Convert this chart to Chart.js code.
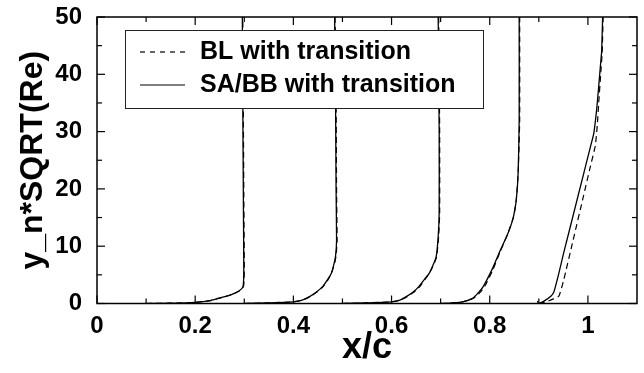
<!DOCTYPE html>
<html><head><meta charset="utf-8">
<script src="https://cdn.jsdelivr.net/npm/chart.js@4"></script>
<style>html,body{margin:0;padding:0;background:#fff}#wrap{width:644px;height:373px;position:relative}</style>
</head><body><div id="wrap"><canvas id="c"></canvas></div>
<script>
// ---- tick labels ----
const xTickLabels = [0, 0.2, 0.4, 0.6, 0.8, 1];
const xMinorTicks = [0.1, 0.3, 0.5, 0.7, 0.9];
const yTickLabels = [0, 10, 20, 30, 40, 50];
const yMinorTicks = [5, 15, 25, 35, 45];
const seriesNames = ['BL with transition', 'SA/BB with transition'];

// ---- profile 1 ----
const p1Y  = [0, 0.05, 0.2, 0.5, 1.1, 1.6, 2.1, 2.6, 3.2, 6, 20, 35, 50];
const p1SA = [0.100, 0.150, 0.200, 0.230, 0.256, 0.275, 0.287, 0.295, 0.298, 0.299, 0.298, 0.297, 0.296];
const p1BL = [0.100, 0.150, 0.200, 0.231, 0.257, 0.276, 0.288, 0.296, 0.299, 0.300, 0.299, 0.298, 0.297];
// ---- profile 2 ----
const p2Y  = [0, 0.1, 0.3, 0.6, 1.2, 2.0, 3.0, 4.2, 5.4, 7.0, 8.3, 11, 20, 35, 50];
const p2SA = [0.300, 0.350, 0.400, 0.418, 0.433, 0.447, 0.460, 0.470, 0.478, 0.483, 0.486, 0.488, 0.487, 0.486, 0.484];
const p2BL = [0.300, 0.350, 0.400, 0.419, 0.434, 0.448, 0.461, 0.471, 0.478, 0.484, 0.487, 0.489, 0.488, 0.487, 0.485];
// ---- profile 3 ----
const p3Y  = [0, 0.1, 0.3, 0.6, 1.2, 2.0, 3.0, 4.2, 5.3, 6.8, 8.2, 11.7, 15.8, 30, 50];
const p3SA = [0.500, 0.550, 0.600, 0.617, 0.630, 0.644, 0.656, 0.667, 0.677, 0.685, 0.691, 0.695, 0.697, 0.697, 0.695];
const p3BL = [0.500, 0.550, 0.600, 0.618, 0.632, 0.646, 0.658, 0.668, 0.677, 0.686, 0.692, 0.696, 0.698, 0.698, 0.696];
// ---- profile 4 ----
const p4Y  = [0, 0.1, 0.3, 0.9, 1.8, 3.0, 6.0, 9.0, 12.0, 15.0, 18.0, 23.0, 32, 50];
const p4SA = [0.700, 0.725, 0.745, 0.765, 0.776, 0.787, 0.805, 0.820, 0.836, 0.848, 0.854, 0.858, 0.860, 0.860];
const p4BL = [0.700, 0.725, 0.746, 0.767, 0.779, 0.790, 0.807, 0.821, 0.836, 0.848, 0.854, 0.858, 0.861, 0.861];
// ---- profile 5 (separate y levels per model) ----
const p5SAy = [0.4, 0, 0.5, 1.3, 2.1, 5.0, 8.6, 15.4, 22.2, 27.3, 29.7, 34, 37.9, 42, 44, 50];
const p5SAx = [0.897, 0.900, 0.912, 0.925, 0.931, 0.940, 0.950, 0.970, 0.990, 1.005, 1.012, 1.018, 1.022, 1.026, 1.028, 1.030];
const p5BLy = [0, 0.3, 0.8, 1.3, 4.2, 11.1, 18.4, 23.9, 27.5, 31, 35, 40, 43.7, 50];
const p5BLx = [0.900, 0.915, 0.930, 0.941, 0.951, 0.970, 0.990, 1.005, 1.015, 1.019, 1.022, 1.026, 1.029, 1.031];

const FONT = "'Liberation Sans', Arial, sans-serif";
const pts = (xs, ys) => xs.map((v, i) => ({x: v, y: ys[i]}));
const profiles = [
  [pts(p1BL, p1Y), pts(p1SA, p1Y)],
  [pts(p2BL, p2Y), pts(p2SA, p2Y)],
  [pts(p3BL, p3Y), pts(p3SA, p3Y)],
  [pts(p4BL, p4Y), pts(p4SA, p4Y)],
  [pts(p5BLx, p5BLy), pts(p5SAx, p5SAy)]
];
const datasets = [];
profiles.forEach(([bl, sa]) => {
  datasets.push({label: seriesNames[0], data: bl, borderColor: '#000', borderWidth: 1.2, borderDash: [6, 4], showLine: true, pointRadius: 0, tension: 0.15});
  datasets.push({label: seriesNames[1], data: sa, borderColor: '#000', borderWidth: 1.3, showLine: true, pointRadius: 0, tension: 0.15});
});

const framePlugin = {
  id: 'frame',
  afterDatasetsDraw(chart) {
    const {ctx, chartArea: {left, right, top, bottom}, scales: {x, y}} = chart;
    ctx.save();
    ctx.strokeStyle = '#000';
    const seg = (x1, y1, x2, y2) => { ctx.beginPath(); ctx.moveTo(x1, y1); ctx.lineTo(x2, y2); ctx.stroke(); };
    ctx.lineWidth = 1.2;
    const xt = (v, len) => { const p = x.getPixelForValue(v); seg(p, bottom, p, bottom - len); seg(p, top, p, top + len); };
    const yt = (v, len) => { const p = y.getPixelForValue(v); seg(left, p, left + len, p); seg(right, p, right - len, p); };
    xTickLabels.forEach(v => xt(v, 8)); xMinorTicks.forEach(v => xt(v, 5));
    yTickLabels.forEach(v => yt(v, 8)); yMinorTicks.forEach(v => yt(v, 5));
    ctx.lineWidth = 1.5;
    ctx.strokeRect(left, top, right - left, bottom - top);
    // legend
    const bx = left + 28, by = top + 13, bw = 358, bh = 78;
    ctx.fillStyle = '#fff'; ctx.fillRect(bx, by, bw, bh);
    ctx.lineWidth = 1; ctx.strokeStyle = '#222'; ctx.strokeRect(bx + 0.5, by + 0.5, bw, bh);
    ctx.strokeStyle = '#000'; ctx.lineWidth = 1.2;
    const rows = [by + 22, by + 55];
    ctx.setLineDash([5, 5]); seg(bx + 15, rows[0], bx + 60, rows[0]);
    ctx.setLineDash([]); seg(bx + 15, rows[1], bx + 60, rows[1]);
    ctx.fillStyle = '#000'; ctx.font = 'bold 25px ' + FONT; ctx.textBaseline = 'middle'; ctx.textAlign = 'left';
    ctx.fillText(seriesNames[0], bx + 75, rows[0]);
    ctx.fillText(seriesNames[1], bx + 75, rows[1]);
    ctx.restore();
  }
};

new Chart(document.getElementById('c'), {
  type: 'scatter',
  data: {datasets},
  options: {
    responsive: true, maintainAspectRatio: false, animation: false,
    layout: {padding: {top: 17, right: 7, left: 0, bottom: 0}},
    plugins: {legend: {display: false}, tooltip: {enabled: false}},
    scales: {
      x: {
        type: 'linear', min: 0, max: 1.1,
        afterBuildTicks: s => { s.ticks = xTickLabels.map(v => ({value: v})); },
        afterFit: s => { s.height = 69.5; s.paddingLeft = 0; s.paddingRight = 0; },
        grid: {display: false, drawTicks: false}, border: {display: false},
        ticks: {padding: 8, color: '#000', font: {family: FONT, size: 24, weight: 'bold'}, callback: v => String(v)},
        title: {display: true, text: 'x/c', color: '#000', font: {family: FONT, size: 36, weight: 'bold'}, padding: {top: 0, bottom: 3}}
      },
      y: {
        type: 'linear', min: 0, max: 50,
        afterBuildTicks: s => { s.ticks = yTickLabels.map(v => ({value: v})); },
        afterFit: s => { s.width = 97; s.paddingTop = 0; s.paddingBottom = 0; },
        grid: {display: false, drawTicks: false}, border: {display: false},
        ticks: {padding: 15, color: '#000', font: {family: FONT, size: 24, weight: 'bold'}, callback: v => String(v)},
        title: {display: true, text: 'y_n*SQRT(Re)', color: '#000', font: {family: FONT, size: 32, weight: 'bold'}, padding: {top: 14, bottom: 0}}
      }
    }
  },
  plugins: [framePlugin]
});
</script></body></html>
